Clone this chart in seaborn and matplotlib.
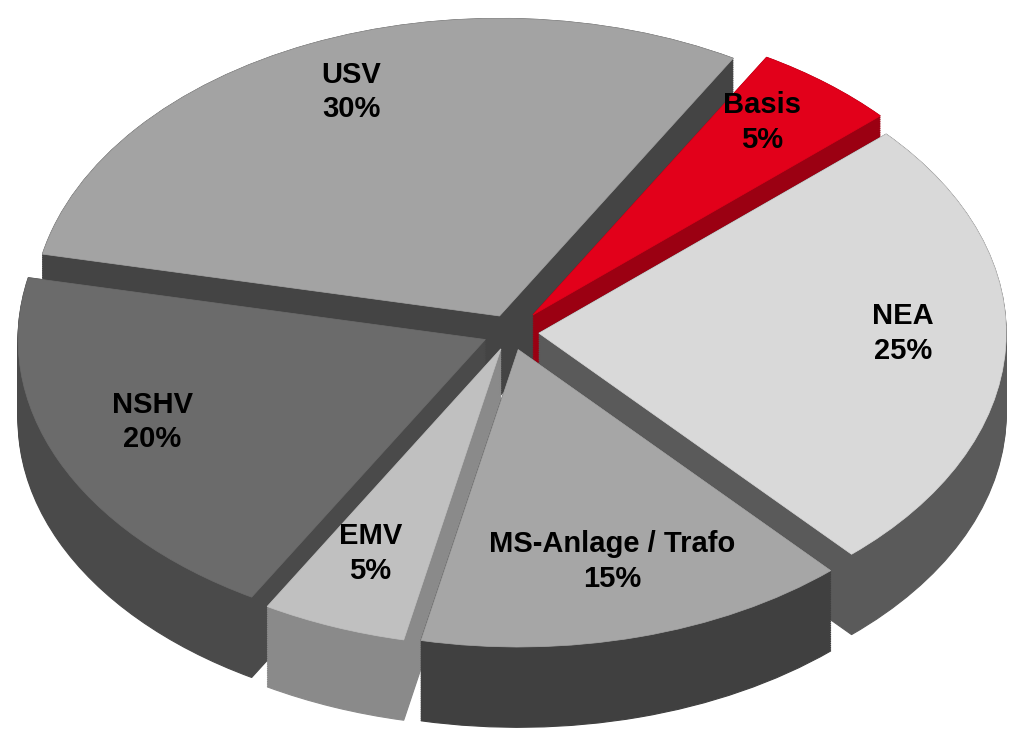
import matplotlib
matplotlib.use("Agg")
import matplotlib.pyplot as plt
import seaborn as sns
import numpy as np

# Chart data
names = ["Basis", "NEA", "MS-Anlage / Trafo", "EMV", "NSHV", "USV"]
shares = [5, 25, 15, 5, 20, 30]
top_colors = ["#e2001a", "#d9d9d9", "#a6a6a6", "#c0c0c0", "#6b6b6b", "#a3a3a3"]
side_colors = ["#9b0012", "#5a5a5a", "#404040", "#8a8a8a", "#4a4a4a", "#444444"]
explode = [0.075, 0.06, 0.06, 0.06, 0.06, 0.06]

sns.set_style("white")
plt.rcParams["font.family"] = ["Liberation Sans", "DejaVu Sans"]

fig = plt.figure(figsize=(10.09, 7.30), dpi=100)
ax = fig.add_axes([0, 0, 1, 1])

depth = 0.27
start = 60

# side walls: stack of darker pies shifted downwards
for z in np.linspace(-depth, 0, 45):
    wedges, _ = ax.pie(shares, explode=explode, colors=side_colors,
                       startangle=start, counterclock=False, center=(0, z))
    for w in wedges:
        w.set_edgecolor(w.get_facecolor())
        w.set_linewidth(0.8)

# top face with labels
labels = [f"{n}\n{s}%" for n, s in zip(names, shares)]
wedges, texts = ax.pie(shares, explode=explode, colors=top_colors,
                       startangle=start, counterclock=False, labels=labels,
                       labeldistance=0.78,
                       textprops=dict(fontsize=21, fontweight="bold", color="black"))
for w in wedges:
    w.set_edgecolor(w.get_facecolor())
    w.set_linewidth(0.5)
for t in texts:
    x, y = t.get_position()
    t.set_position((x, y + 0.04))  # slight lift, as in the tilted original
    t.set_ha("center")
    t.set_va("center")
    t.set_linespacing(1.3)

# flatten to a tilted view
ax.set_aspect("auto")
ax.set_xlim(-1.0935, 1.066)
ax.set_ylim(-1.337, 1.117)
ax.axis("off")

fig.savefig("out.png", dpi=100)
